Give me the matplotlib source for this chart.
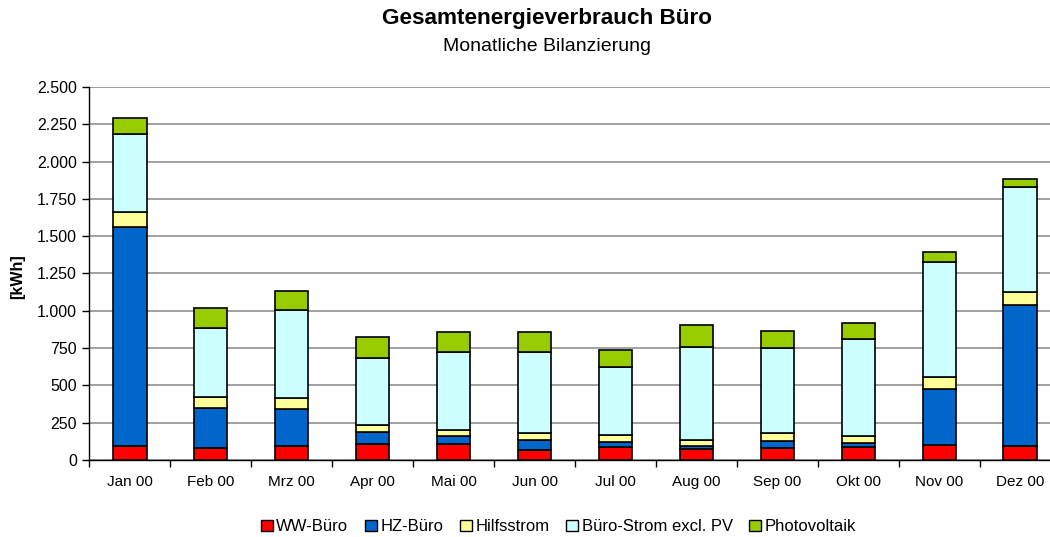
import numpy as np
import matplotlib
matplotlib.use("Agg")
import matplotlib.pyplot as plt
from matplotlib.ticker import FuncFormatter, MultipleLocator
from matplotlib.patches import Patch

plt.rcParams['font.family'] = ['Liberation Sans', 'DejaVu Sans']

months = ["Jan 00", "Feb 00", "Mrz 00", "Apr 00", "Mai 00", "Jun 00",
          "Jul 00", "Aug 00", "Sep 00", "Okt 00", "Nov 00", "Dez 00"]
ww_buero = [96, 82, 96, 105, 105, 67, 85, 72, 82, 89, 100, 94]
hz_buero = [1467, 266, 244, 81, 56, 67, 38, 24, 47, 23, 376, 945]
hilfsstrom = [99, 72, 78, 49, 40, 45, 42, 38, 54, 49, 78, 87]
buero_strom = [524, 462, 587, 450, 523, 543, 460, 621, 565, 647, 775, 701]
photovoltaik = [103, 134, 125, 141, 136, 138, 112, 147, 114, 110, 67, 54]

series = [("WW-Büro", ww_buero, "#FF0000"),
          ("HZ-Büro", hz_buero, "#0066CC"),
          ("Hilfsstrom", hilfsstrom, "#FFFF99"),
          ("Büro-Strom excl. PV", buero_strom, "#CCFFFF"),
          ("Photovoltaik", photovoltaik, "#99CC00")]

fig = plt.figure(figsize=(10.5, 5.37), dpi=100)
ax = fig.add_axes([0.0852, 0.1434, 0.9248, 0.6946])

x = np.arange(len(months))
bottom = np.zeros(len(months))
for name, vals, col in series:
    ax.bar(x, vals, width=0.41, bottom=bottom, color=col, edgecolor="black",
           linewidth=1.2, zorder=3)
    bottom += np.array(vals)

ax.set_xlim(-0.5, len(months) - 0.5)
ax.set_ylim(0, 2500)
ax.yaxis.set_major_locator(MultipleLocator(250))
ax.yaxis.set_major_formatter(FuncFormatter(lambda v, p: f"{int(v):,}".replace(",", ".")))
ax.grid(axis="y", color="#999999", linewidth=1.3, zorder=0)

ax.set_xticks(x)
ax.set_xticklabels(months, fontsize=11)
ax.set_xticks(np.arange(-0.5, len(months), 1), minor=True)
ax.tick_params(axis="x", which="major", length=0, pad=11)
ax.tick_params(axis="x", which="minor", length=5, width=1, direction="out")
ax.tick_params(axis="y", length=5, width=1, labelsize=11.5, pad=4)

for s in ["top", "right"]:
    ax.spines[s].set_visible(False)
ax.spines["left"].set_linewidth(1)
ax.spines["bottom"].set_linewidth(1)

fig.text(0.0165, 0.484, "[kWh]", rotation=90, fontsize=11.5, fontweight="bold",
         ha="center", va="center")

fig.text(0.521, 0.965, "Gesamtenergieverbrauch Büro", fontsize=16.2,
         fontweight="bold", ha="center", va="center")
fig.text(0.521, 0.914, "Monatliche Bilanzierung", fontsize=14,
         ha="center", va="center")

handles = [Patch(facecolor=col, edgecolor="black", linewidth=1, label=name)
           for name, vals, col in series]
fig.legend(handles=handles, loc="center", bbox_to_anchor=(0.532, 0.019),
           ncol=5, frameon=False, fontsize=12, handlelength=0.72,
           handleheight=0.72, handletextpad=0.2, columnspacing=1.0,
           borderpad=0)

fig.savefig("out.png", dpi=100)
